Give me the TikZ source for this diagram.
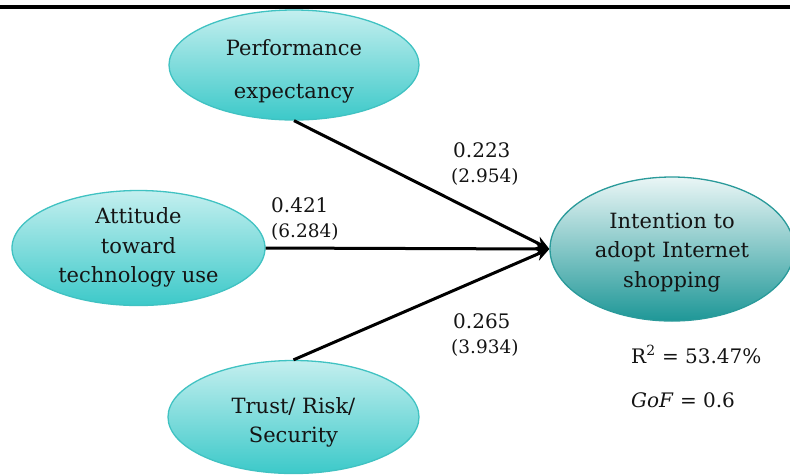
\documentclass[tikz,border=0pt]{standalone}
\usepackage{fontspec}
\setmainfont{DejaVu Serif}
\usetikzlibrary{shapes.geometric,arrows.meta}

\definecolor{cyanTop}{HTML}{C4EFEF}
\definecolor{cyanBot}{HTML}{3CC9C9}
\definecolor{cyanEdge}{HTML}{40C2C2}
\definecolor{tealTop}{HTML}{EAF6F6}
\definecolor{tealBot}{HTML}{1E9797}
\definecolor{tealEdge}{HTML}{2A9A9A}
\definecolor{ink}{HTML}{141414}

\tikzset{
  construct/.style={ellipse, draw=cyanEdge, line width=1.3pt, inner sep=0pt,
    top color=cyanTop, bottom color=cyanBot},
  outcome/.style={ellipse, draw=tealEdge, line width=1.3pt, inner sep=0pt,
    top color=tealTop, bottom color=tealBot},
  ctext/.style={align=center, text=ink, inner sep=0pt,
    font=\fontsize{21}{29.5}\selectfont},
  coef/.style={anchor=base west, text=ink, inner sep=0pt,
    font=\fontsize{20}{24}\selectfont},
  tval/.style={anchor=base west, text=ink, inner sep=0pt,
    font=\fontsize{18.5}{22}\selectfont},
  path/.style={line width=3pt, -{Stealth[length=14pt,width=13pt]}},
}

\begin{document}
\begin{tikzpicture}[x=1pt,y=-1pt]
  \useasboundingbox (0,0) rectangle (790,475);

  % rule along the top
  \draw[line width=3.4pt] (0,7) -- (790,7);

  % latent constructs
  \node[construct, minimum width=250pt, minimum height=110pt] (pe) at (294,65) {};
  \node[construct, minimum width=253pt, minimum height=115pt] (at) at (138.5,248) {};
  \node[construct, minimum width=251pt, minimum height=113pt] (ts) at (293.5,417) {};
  \node[outcome, minimum width=244pt, minimum height=144pt] (in) at (672,249) {};

  % construct names
  \node[ctext] (pet) at (294,71.5) {Performance\\[13.5pt]expectancy};
  \node[ctext] (att) at (138.5,247.5) {Attitude\\toward\\technology use};
  \node[ctext] (tst) at (293.5,422.5) {Trust/ Risk/\\Security};
  \node[ctext] (int) at (672,252.5) {Intention to\\adopt Internet\\shopping};

  % structural paths
  \draw[path] (pe.south) -- (in.west);
  \draw[path] (at.east) -- (in.west);
  \draw[path] (ts.north) -- (in.west);

  % path coefficients and t-values
  \node[coef] (c1) at (453,157) {0.223};
  \node[tval] (t1) at (451,182) {(2.954)};
  \node[coef] (c2) at (271,212) {0.421};
  \node[tval] (t2) at (271,237) {(6.284)};
  \node[coef] (c3) at (453,328) {0.265};
  \node[tval] (t3) at (451,353) {(3.934)};

  % model fit
  \node[coef] (r2) at (631,363) {R\textsuperscript{2} = 53.47\%};
  \node[coef] (gof) at (631,407) {\textit{GoF} = 0.6};
\end{tikzpicture}
\end{document}
